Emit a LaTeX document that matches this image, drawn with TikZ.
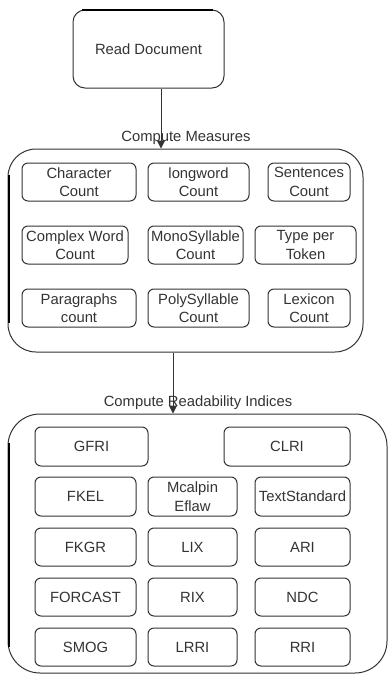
\documentclass[tikz,border=0pt]{standalone}
\usepackage{fontspec}
\setmainfont{Liberation Sans}
\usetikzlibrary{arrows.meta}
\definecolor{ink}{HTML}{333333}
\begin{document}
\begin{tikzpicture}[x=1pt,y=-1pt,
  every node/.style={font=\fontsize{14.8}{18.5}\selectfont, text=ink, align=center, inner sep=0pt},
  ibox/.style={draw=ink, line width=1pt, rounded corners=6pt, minimum height=38pt},
  cont/.style={draw=ink, line width=1pt, rounded corners=28pt},
  conn/.style={draw=ink, line width=1pt, -{Triangle[length=8pt,width=8pt]}},
  lbl/.style={}
]
\useasboundingbox (0,0) rectangle (388,677);
% Read document
\node[draw=ink, line width=1pt, rounded corners=12pt, minimum width=151pt, minimum height=78pt] (rd) at (148.5,49) {Read Document};
% Compute measures container
\node[cont, minimum width=355pt, minimum height=203pt] (cm) at (185.5,250.5) {};
\node[lbl] (cml) at (186,138) {Compute Measures};
% row 1
\node[ibox, minimum width=114pt] (m11) at (79,182) {Character\\Count};
\node[ibox, minimum width=101pt] (m12) at (198.5,182) {longword\\Count};
\node[ibox, minimum width=82pt] (m13) at (309,182) {Sentences\\Count};
% row 2
\node[ibox, minimum width=106pt] (m21) at (75,245) {Complex Word\\Count};
\node[ibox, minimum width=95pt] (m22) at (195.5,245) {MonoSyllable\\Count};
\node[ibox, minimum width=101pt] (m23) at (305.5,245) {Type per\\Token};
% row 3
\node[ibox, minimum width=114pt] (m31) at (79,308) {Paragraphs\\count};
\node[ibox, minimum width=101pt] (m32) at (198.5,308) {PolySyllable\\Count};
\node[ibox, minimum width=82pt] (m33) at (309,308) {Lexicon\\Count};
% Readability container
\node[cont, rounded corners=32pt, minimum width=379pt, minimum height=259pt] (ri) at (197.5,543.5) {};
\node[lbl] (ril) at (198,403) {Compute Readability Indices};
% rows
\node[ibox, minimum height=39pt, minimum width=113pt] (r11) at (91.5,446.5) {GFRI};
\node[ibox, minimum height=39pt, minimum width=126pt] (r13) at (287,446.5) {CLRI};
\node[ibox, minimum height=39pt, minimum width=101pt] (r21) at (85.5,496.5) {FKEL};
\node[ibox, minimum height=39pt, minimum width=89pt] (r22) at (192.5,496.5) {Mcalpin\\Eflaw};
\node[ibox, minimum height=39pt, minimum width=95pt] (r23) at (302.5,496.5) {TextStandard};
\node[ibox, minimum width=101pt] (r31) at (85.5,547) {FKGR};
\node[ibox, minimum width=89pt] (r32) at (192.5,547) {LIX};
\node[ibox, minimum width=95pt] (r33) at (302.5,547) {ARI};
\node[ibox, minimum width=101pt] (r41) at (85.5,597) {FORCAST};
\node[ibox, minimum width=89pt] (r42) at (192.5,597) {RIX};
\node[ibox, minimum width=95pt] (r43) at (302.5,597) {NDC};
\node[ibox, minimum width=101pt] (r51) at (85.5,647) {SMOG};
\node[ibox, minimum width=89pt] (r52) at (192.5,647) {LRRI};
\node[ibox, minimum width=95pt] (r53) at (302.5,647) {RRI};
% connectors
\coordinate (a1) at (161,0);
\coordinate (a2) at (173,0);
\draw[conn] (rd.south -| a1) -- (cm.north -| a1);
\draw[conn] (cm.south -| a2) -- (ri.north -| a2);
% heavier edge segments
\draw[line width=2pt, black] (82,10) -- (213,10);
\draw[line width=2pt, black] (8.5,175) -- (8.5,323);
\draw[line width=2pt, black] (8.5,443) -- (8.5,647);
\end{tikzpicture}
\end{document}
